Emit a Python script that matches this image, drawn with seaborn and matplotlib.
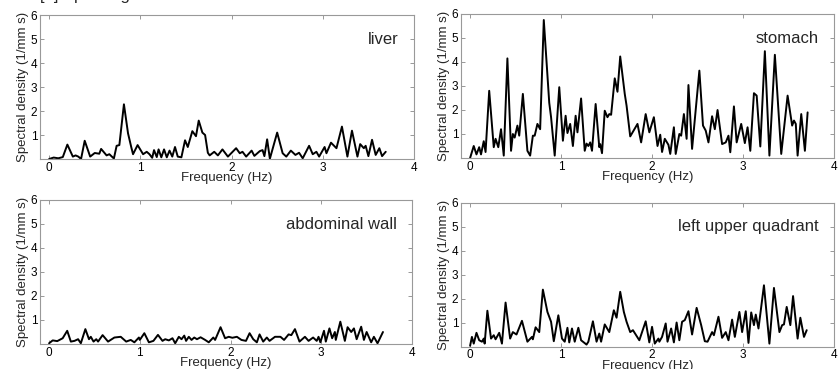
import numpy as np
import pandas as pd
import matplotlib
matplotlib.use("Agg")
import matplotlib.pyplot as plt
import seaborn as sns

# Spectral density (frequency in Hz, density in 1/mm s)
liver_f = [0.0, 0.05, 0.10, 0.15, 0.20, 0.26, 0.29, 0.32, 0.35, 0.39, 0.45, 0.50, 0.55, 0.57,
           0.63, 0.66, 0.71, 0.74, 0.77, 0.82, 0.865, 0.90, 0.92, 0.97, 1.03, 1.07, 1.10, 1.13,
           1.15, 1.18, 1.20, 1.23, 1.26, 1.29, 1.32, 1.35, 1.38, 1.41, 1.45, 1.49, 1.52, 1.57,
           1.61, 1.64, 1.68, 1.71, 1.74, 1.76, 1.81, 1.85, 1.90, 1.96, 2.05, 2.09, 2.12, 2.16,
           2.22, 2.25, 2.31, 2.34, 2.36, 2.39, 2.42, 2.50, 2.56, 2.60, 2.65, 2.70, 2.74, 2.78,
           2.85, 2.89, 2.93, 2.96, 3.02, 3.04, 3.09, 3.15, 3.21, 3.27, 3.32, 3.38, 3.41, 3.45,
           3.47, 3.50, 3.54, 3.58, 3.62, 3.65, 3.69]
liver_v = [0.0, 0.06, 0.03, 0.08, 0.60, 0.10, 0.15, 0.10, 0.0, 0.76, 0.10, 0.25, 0.22, 0.42,
           0.15, 0.20, 0.02, 0.55, 0.58, 2.28, 1.07, 0.50, 0.20, 0.58, 0.20, 0.30, 0.20, 0.05,
           0.37, 0.08, 0.40, 0.07, 0.40, 0.07, 0.35, 0.10, 0.50, 0.10, 0.07, 0.78, 0.50, 1.16,
           0.95, 1.60, 1.10, 1.00, 0.26, 0.15, 0.30, 0.15, 0.40, 0.10, 0.45, 0.24, 0.30, 0.10,
           0.35, 0.13, 0.33, 0.37, 0.12, 0.82, 0.01, 1.10, 0.24, 0.10, 0.35, 0.17, 0.26, 0.03,
           0.55, 0.20, 0.30, 0.10, 0.50, 0.24, 0.68, 0.45, 1.35, 0.10, 1.18, 0.10, 0.62, 0.45,
           0.55, 0.12, 0.80, 0.17, 0.45, 0.12, 0.30]

stomach_f = [0.0, 0.04, 0.07, 0.10, 0.12, 0.15, 0.17, 0.21, 0.26, 0.28, 0.31, 0.34, 0.37, 0.41,
             0.45, 0.47, 0.49, 0.52, 0.54, 0.58, 0.63, 0.66, 0.69, 0.71, 0.74, 0.77, 0.81, 0.87,
             0.89, 0.93, 0.98, 1.02, 1.05, 1.07, 1.10, 1.13, 1.16, 1.18, 1.22, 1.26, 1.28, 1.30,
             1.32, 1.34, 1.38, 1.42, 1.43, 1.45, 1.48, 1.51, 1.53, 1.55, 1.59, 1.62, 1.65, 1.70,
             1.72, 1.76, 1.84, 1.88, 1.93, 1.97, 2.02, 2.06, 2.09, 2.11, 2.14, 2.18, 2.20, 2.24,
             2.26, 2.30, 2.32, 2.35, 2.38, 2.40, 2.44, 2.52, 2.56, 2.59, 2.62, 2.66, 2.69, 2.72,
             2.77, 2.81, 2.84, 2.86, 2.90, 2.93, 2.98, 3.02, 3.05, 3.08, 3.12, 3.15, 3.19, 3.24,
             3.29, 3.35, 3.42, 3.49, 3.54, 3.56, 3.58, 3.60, 3.64, 3.68, 3.71]
stomach_v = [0.0, 0.50, 0.15, 0.45, 0.15, 0.70, 0.25, 2.80, 0.45, 0.80, 0.45, 1.20, 0.10, 4.15,
             0.30, 1.00, 0.85, 1.35, 0.93, 2.67, 0.30, 0.10, 0.93, 0.93, 1.42, 1.20, 5.75, 2.30,
             1.70, 0.10, 2.95, 0.72, 1.76, 1.04, 1.42, 0.50, 1.76, 1.07, 2.48, 0.30, 0.60, 0.50,
             0.65, 0.30, 2.25, 0.45, 0.58, 0.20, 1.97, 1.70, 1.83, 1.80, 3.32, 2.76, 4.23, 2.67,
             2.18, 0.90, 1.42, 0.65, 1.83, 1.07, 1.70, 0.50, 0.97, 0.25, 0.80, 0.55, 0.17, 1.28,
             0.17, 1.00, 0.93, 1.83, 0.80, 3.04, 0.38, 3.64, 1.35, 1.14, 0.65, 1.74, 1.20, 2.00,
             0.58, 0.65, 0.93, 0.24, 2.15, 0.65, 1.42, 0.62, 1.28, 0.30, 2.70, 2.60, 0.48, 4.45,
             0.10, 4.30, 0.17, 2.60, 1.35, 1.56, 1.42, 0.10, 1.83, 0.30, 1.90]

wall_f = [0.0, 0.04, 0.09, 0.15, 0.20, 0.24, 0.28, 0.32, 0.35, 0.40, 0.44, 0.46, 0.49, 0.52,
          0.54, 0.59, 0.65, 0.72, 0.79, 0.85, 0.90, 0.94, 0.99, 1.00, 1.05, 1.10, 1.15, 1.20,
          1.25, 1.28, 1.32, 1.36, 1.39, 1.43, 1.46, 1.49, 1.51, 1.54, 1.57, 1.60, 1.63, 1.67,
          1.72, 1.76, 1.81, 1.83, 1.89, 1.94, 1.98, 2.02, 2.07, 2.12, 2.17, 2.21, 2.25, 2.29,
          2.32, 2.36, 2.40, 2.43, 2.49, 2.55, 2.59, 2.64, 2.67, 2.71, 2.76, 2.82, 2.86, 2.91,
          2.95, 2.97, 2.99, 3.03, 3.05, 3.09, 3.12, 3.15, 3.16, 3.21, 3.26, 3.29, 3.33, 3.36,
          3.39, 3.44, 3.47, 3.50, 3.55, 3.58, 3.62, 3.68]
wall_v = [0.03, 0.15, 0.12, 0.24, 0.55, 0.10, 0.13, 0.20, 0.03, 0.62, 0.20, 0.30, 0.10, 0.20,
          0.10, 0.37, 0.10, 0.27, 0.30, 0.10, 0.17, 0.07, 0.27, 0.17, 0.45, 0.07, 0.13, 0.38,
          0.13, 0.20, 0.15, 0.24, 0.03, 0.30, 0.20, 0.35, 0.13, 0.30, 0.17, 0.27, 0.20, 0.28,
          0.17, 0.07, 0.27, 0.17, 0.70, 0.24, 0.30, 0.26, 0.30, 0.17, 0.13, 0.45, 0.20, 0.07,
          0.40, 0.10, 0.27, 0.13, 0.30, 0.30, 0.17, 0.40, 0.37, 0.62, 0.10, 0.30, 0.13, 0.27,
          0.13, 0.30, 0.07, 0.55, 0.10, 0.65, 0.24, 0.50, 0.17, 0.93, 0.13, 0.70, 0.50, 0.65,
          0.20, 0.72, 0.17, 0.50, 0.07, 0.30, 0.03, 0.50]

luq_f = [0.0, 0.02, 0.04, 0.07, 0.10, 0.13, 0.15, 0.16, 0.19, 0.23, 0.26, 0.28, 0.32, 0.35,
         0.39, 0.44, 0.47, 0.51, 0.57, 0.63, 0.68, 0.69, 0.72, 0.76, 0.80, 0.85, 0.89, 0.92,
         0.97, 1.01, 1.04, 1.07, 1.09, 1.12, 1.15, 1.19, 1.22, 1.28, 1.30, 1.35, 1.39, 1.42,
         1.44, 1.48, 1.53, 1.58, 1.61, 1.65, 1.69, 1.72, 1.76, 1.79, 1.86, 1.93, 1.97, 2.00,
         2.03, 2.07, 2.08, 2.11, 2.15, 2.17, 2.21, 2.24, 2.27, 2.30, 2.33, 2.36, 2.40, 2.44,
         2.49, 2.54, 2.58, 2.61, 2.66, 2.68, 2.73, 2.77, 2.81, 2.84, 2.88, 2.91, 2.96, 2.99,
         3.03, 3.06, 3.09, 3.12, 3.14, 3.17, 3.23, 3.29, 3.34, 3.40, 3.43, 3.45, 3.48, 3.52,
         3.55, 3.60, 3.63, 3.67, 3.70]
luq_v = [0.03, 0.40, 0.12, 0.57, 0.26, 0.20, 0.33, 0.12, 1.49, 0.33, 0.47, 0.30, 0.57, 0.12,
         1.83, 0.33, 0.60, 0.50, 1.07, 0.20, 0.40, 0.30, 0.80, 0.60, 2.37, 1.44, 1.03, 0.22,
         1.30, 0.33, 0.20, 0.78, 0.17, 0.75, 0.20, 0.78, 0.26, 0.08, 0.20, 1.05, 0.20, 0.54,
         0.20, 0.92, 0.60, 1.51, 1.20, 2.28, 1.44, 1.03, 0.60, 0.68, 0.26, 1.05, 0.17, 0.82,
         0.12, 0.33, 0.20, 0.40, 0.96, 0.20, 0.75, 0.17, 1.00, 0.26, 1.03, 1.10, 1.47, 0.50,
         1.61, 0.89, 0.22, 0.20, 0.60, 0.47, 1.24, 0.36, 0.60, 0.26, 1.12, 0.40, 1.44, 0.60,
         1.47, 0.15, 1.42, 0.89, 1.33, 0.75, 2.55, 0.12, 2.44, 0.60, 0.89, 0.92, 1.65, 0.89,
         2.10, 0.33, 1.20, 0.40, 0.68]

panel_names = ["liver", "stomach", "abdominal wall", "left upper quadrant"]
panel_data = [(liver_f, liver_v), (stomach_f, stomach_v), (wall_f, wall_v), (luq_f, luq_v)]

x_ticks = [0, 1, 2, 3, 4]
y_ticks = [1, 2, 3, 4, 5, 6]

sns.set_style("white")
plt.rcParams['font.family'] = ['Liberation Sans', 'DejaVu Sans']

fig = plt.figure(figsize=(8.38, 3.69), dpi=100)

# axes boxes in figure fractions: [left, bottom, width, height]
boxes = [
    [40 / 838, 210 / 369, 374 / 838, 144 / 369],
    [461 / 838, 211 / 369, 373 / 838, 144 / 369],
    [40 / 838, 25 / 369, 372 / 838, 144 / 369],
    [461 / 838, 22.5 / 369, 373 / 838, 144 / 369],
]

for box, name, (f, v) in zip(boxes, panel_names, panel_data):
    ax = fig.add_axes(box)
    df = pd.DataFrame({"freq": f, "density": v})
    sns.lineplot(data=df, x="freq", y="density", ax=ax, color="black", linewidth=1.4)

    ax.set_xlim(-0.1, 4)
    ax.set_ylim(0, 6)
    ax.set_xticks(x_ticks)
    ax.set_yticks(y_ticks)
    ax.tick_params(direction="in", length=3, width=0.6, colors="#888888",
                   labelcolor="black", labelsize=8.5, top=True, right=True,
                   bottom=True, left=True, pad=2)
    for sp in ax.spines.values():
        sp.set_color("#999999")
        sp.set_linewidth(0.8)
    ax.set_xlabel("Frequency (Hz)", fontsize=9.5, labelpad=-1)
    ax.set_ylabel("Spectral density (1/mm s)", fontsize=9.5, labelpad=1)
    ax.text(0.96, 0.83, name, transform=ax.transAxes, ha="right", va="center", fontsize=12)

# top line of the figure caption, cut off by the edge of the image
fig.text(0.048, 1.001, "[a] Spectrogram", fontsize=12, ha="left", va="baseline")

fig.savefig("out.png", dpi=100)
